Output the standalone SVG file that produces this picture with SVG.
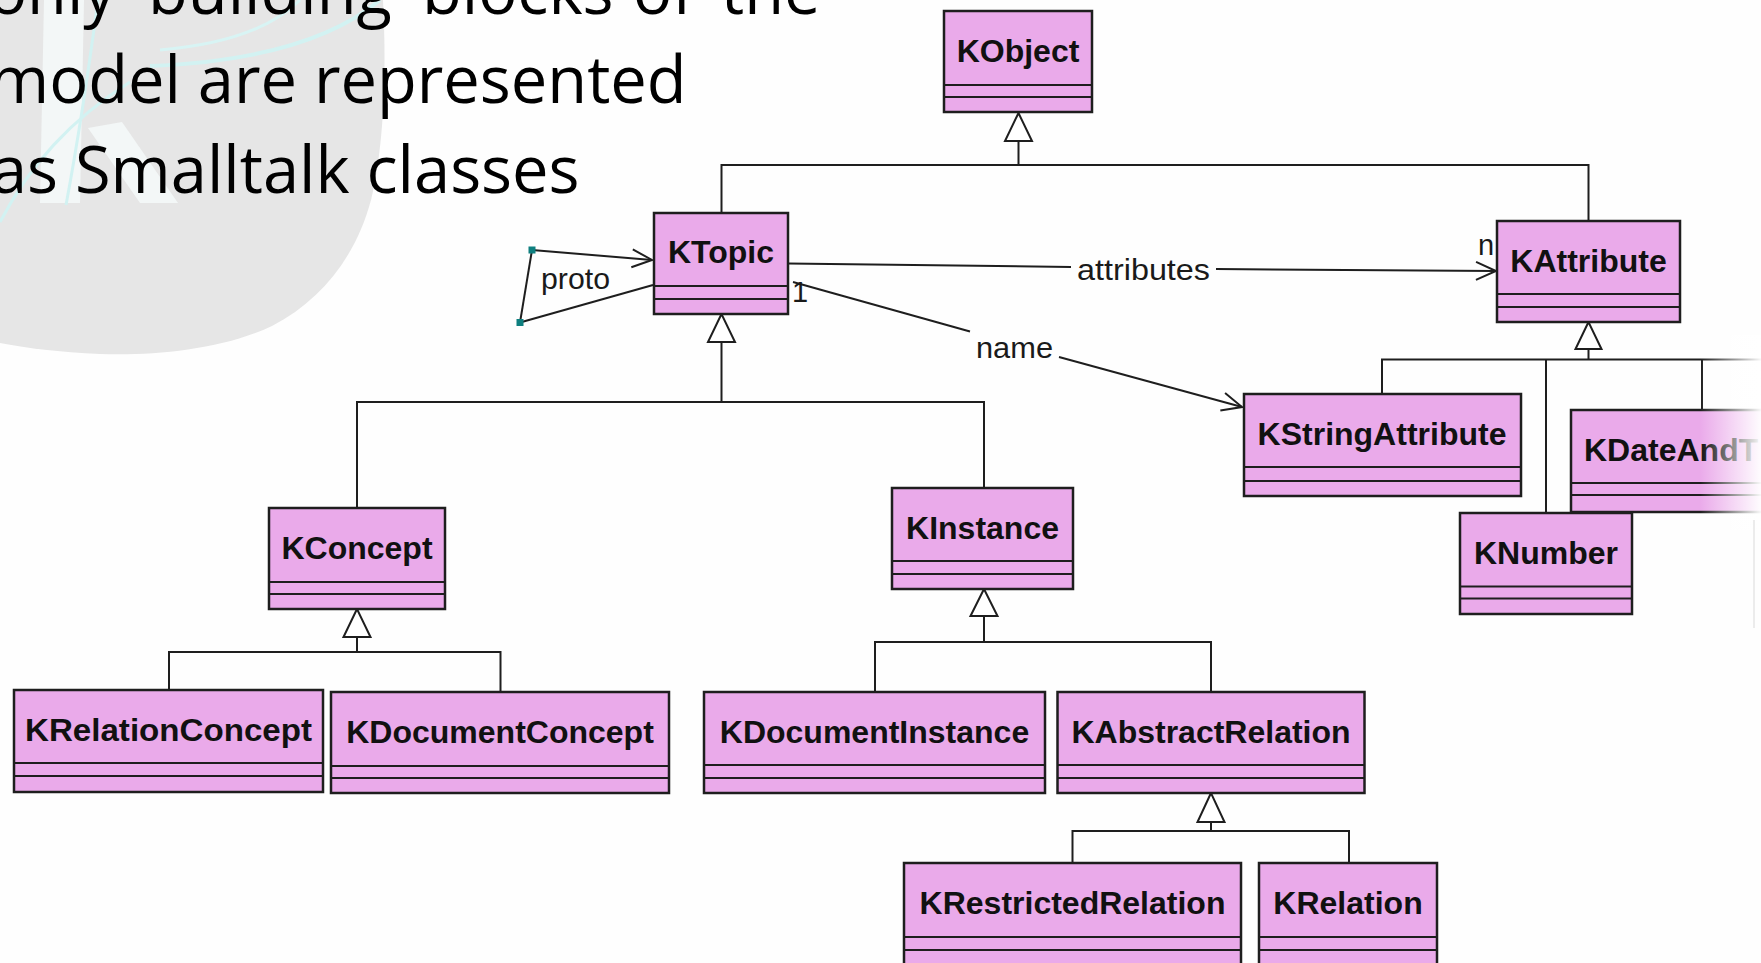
<svg xmlns="http://www.w3.org/2000/svg" width="1761" height="963" viewBox="0 0 1761 963">
  <defs>
    <style>
      .cls rect { fill: #EAAAEA; stroke: #1E1E1E; stroke-width: 2.5; }
      .cls line { stroke: #1E1E1E; stroke-width: 2.2; }
      .cls text { font-family: "Liberation Sans", Arial, sans-serif; font-weight: bold; font-size: 32px; fill: #111; text-anchor: middle; }
      .conn line, .conn polyline, .conn path { fill: none; stroke: #1E1E1E; stroke-width: 2; }
      .conn .gen { fill: #FFFFFF; stroke: #1E1E1E; stroke-width: 2; }
      .lbl { font-family: "Liberation Sans", Arial, sans-serif; font-size: 29px; fill: #1A1A1A; }
      .title { font-family: "Open Sans", "Noto Sans", sans-serif; font-size: 65px; fill: #000; }
      .handle { fill: #0E7F7F; }
    </style>
    <marker id="open" markerUnits="userSpaceOnUse" markerWidth="26" markerHeight="22" refX="22" refY="11" orient="auto">
      <path d="M2,2 L22,11 L2,20" fill="none" stroke="#1E1E1E" stroke-width="2"/>
    </marker>
    <linearGradient id="fade" x1="0" y1="0" x2="1" y2="0">
      <stop offset="0" stop-color="#FFFFFF" stop-opacity="0"/>
      <stop offset="1" stop-color="#FFFFFF" stop-opacity="0.97"/>
    </linearGradient>
  </defs>

  <rect x="0" y="0" width="1761" height="963" fill="#FEFEFE"/>

  <!-- background emblem: grey disc with a pale K -->
  <g id="emblem">
    <path d="M0,0 L383,0 C387,80 383,150 371,200 C356,256 322,300 272,326 C222,350 152,356 100,354 C60,352 25,348 0,343 Z" fill="#E6E6E6"/>
    <path d="M44,0 L84,0 L80,203 L40,203 Z" fill="#F3F7F7"/>
    <path d="M88,128 L122,122 L178,203 L140,203 Z" fill="#F3F7F7"/>
    <path d="M380,0 C330,42 250,62 150,66" fill="none" stroke="#D2F2F2" stroke-width="4"/>
    <path d="M300,0 C270,30 220,45 160,50" fill="none" stroke="#D8F4F4" stroke-width="3"/>
    <path d="M98,0 C90,60 80,130 66,205" fill="none" stroke="#D2F2F2" stroke-width="3"/>
    <path d="M0,222 C30,165 70,120 130,82" fill="none" stroke="#D2F2F2" stroke-width="3"/>
  </g>

  <!-- slide text -->
  <g id="title" class="title">
    <text y="14"><tspan x="-12">only</tspan><tspan x="148">building</tspan><tspan x="422">blocks</tspan><tspan x="633">of</tspan><tspan x="721">the</tspan></text>
    <text x="-11" y="103">model are represented</text>
    <text x="-9" y="193">as Smalltalk classes</text>
  </g>

  <!-- connectors -->
  <g id="connectors" class="conn">
    <!-- KObject generalization -->
    <polygon class="gen" points="1018.5,113 1005,141 1032,141"/>
    <polyline points="1018.5,141 1018.5,165"/>
    <polyline points="721.5,213 721.5,165 1588.5,165 1588.5,221"/>
    <!-- KTopic generalization -->
    <polygon class="gen" points="721.5,314 708,342 735,342"/>
    <polyline points="721.5,342 721.5,402"/>
    <polyline points="357,508 357,402 984,402 984,488"/>
    <!-- KConcept generalization -->
    <polygon class="gen" points="357,609 343.5,637 370.5,637"/>
    <polyline points="357,637 357,652"/>
    <polyline points="169,690 169,652 500.5,652 500.5,692"/>
    <!-- KInstance generalization -->
    <polygon class="gen" points="984,589 970.5,616 997.5,616"/>
    <polyline points="984,616 984,642"/>
    <polyline points="875,692 875,642 1211,642 1211,692"/>
    <!-- KAbstractRelation generalization -->
    <polygon class="gen" points="1211,793 1197.5,822 1224.5,822"/>
    <polyline points="1211,822 1211,831"/>
    <polyline points="1072.5,863 1072.5,831 1349,831 1349,863"/>
    <!-- KAttribute generalization -->
    <polygon class="gen" points="1588.5,322 1575.5,349 1601.5,349"/>
    <polyline points="1588.5,349 1588.5,359.5"/>
    <polyline points="1382,394 1382,359.5 1761,359.5"/>
    <line x1="1546" y1="359.5" x2="1546" y2="513"/>
    <line x1="1702" y1="359.5" x2="1702" y2="410"/>

    <!-- attributes association -->
    <line x1="788" y1="263.5" x2="1071" y2="267"/>
    <line x1="1216" y1="269" x2="1496" y2="271" marker-end="url(#open)"/>
    <text class="lbl" x="1077" y="280" textLength="133" lengthAdjust="spacingAndGlyphs">attributes</text>
    <text class="lbl" x="1478" y="255" font-size="27">n</text>

    <!-- name association -->
    <line x1="793" y1="282" x2="970" y2="331.5"/>
    <line x1="1059" y1="357" x2="1242" y2="407" marker-end="url(#open)"/>
    <text class="lbl" x="976" y="358" textLength="77" lengthAdjust="spacingAndGlyphs">name</text>
    <text class="lbl" x="792" y="302" font-size="26">1</text>

    <!-- proto self association -->
    <line x1="653" y1="285" x2="520" y2="322.5"/>
    <line x1="520" y1="322.5" x2="532" y2="250"/>
    <line x1="532" y1="250" x2="652" y2="260" marker-end="url(#open)"/>
    <rect class="handle" x="528.5" y="246.5" width="7" height="7"/>
    <rect class="handle" x="516.5" y="319" width="7" height="7"/>
    <text class="lbl" x="541" y="289" textLength="69" lengthAdjust="spacingAndGlyphs">proto</text>
  </g>

  <!-- classes -->
  <g id="KObject" class="cls">
    <rect x="944" y="11" width="148" height="101"/>
    <line x1="944" y1="85" x2="1092" y2="85"/>
    <line x1="944" y1="97" x2="1092" y2="97"/>
    <text x="1018" y="62">KObject</text>
  </g>
  <g id="KTopic" class="cls">
    <rect x="654" y="213" width="134" height="101"/>
    <line x1="654" y1="286" x2="788" y2="286"/>
    <line x1="654" y1="299" x2="788" y2="299"/>
    <text x="721" y="263">KTopic</text>
  </g>
  <g id="KAttribute" class="cls">
    <rect x="1497" y="221" width="183" height="101"/>
    <line x1="1497" y1="294" x2="1680" y2="294"/>
    <line x1="1497" y1="307" x2="1680" y2="307"/>
    <text x="1588.5" y="272">KAttribute</text>
  </g>
  <g id="KStringAttribute" class="cls">
    <rect x="1244" y="394" width="277" height="102"/>
    <line x1="1244" y1="467" x2="1521" y2="467"/>
    <line x1="1244" y1="481" x2="1521" y2="481"/>
    <text x="1382" y="445">KStringAttribute</text>
  </g>
  <g id="KDateAndTime" class="cls">
    <rect x="1571" y="410" width="260" height="102"/>
    <line x1="1571" y1="483" x2="1831" y2="483"/>
    <line x1="1571" y1="495" x2="1831" y2="495"/>
    <text x="1584" y="461" style="text-anchor:start">KDateAndT</text>
  </g>
  <g id="KNumber" class="cls">
    <rect x="1460" y="513" width="172" height="101"/>
    <line x1="1460" y1="586.5" x2="1632" y2="586.5"/>
    <line x1="1460" y1="598.5" x2="1632" y2="598.5"/>
    <text x="1546" y="564">KNumber</text>
  </g>
  <g id="KConcept" class="cls">
    <rect x="269" y="508" width="176" height="101"/>
    <line x1="269" y1="582" x2="445" y2="582"/>
    <line x1="269" y1="594" x2="445" y2="594"/>
    <text x="357" y="559">KConcept</text>
  </g>
  <g id="KInstance" class="cls">
    <rect x="892" y="488" width="181" height="101"/>
    <line x1="892" y1="561" x2="1073" y2="561"/>
    <line x1="892" y1="574" x2="1073" y2="574"/>
    <text x="982.5" y="539">KInstance</text>
  </g>
  <g id="KRelationConcept" class="cls">
    <rect x="14" y="690" width="309" height="102"/>
    <line x1="14" y1="763" x2="323" y2="763"/>
    <line x1="14" y1="776" x2="323" y2="776"/>
    <text x="168.5" y="741" textLength="287" lengthAdjust="spacingAndGlyphs">KRelationConcept</text>
  </g>
  <g id="KDocumentConcept" class="cls">
    <rect x="331" y="692" width="338" height="101"/>
    <line x1="331" y1="766" x2="669" y2="766"/>
    <line x1="331" y1="778" x2="669" y2="778"/>
    <text x="500" y="743">KDocumentConcept</text>
  </g>
  <g id="KDocumentInstance" class="cls">
    <rect x="704" y="692" width="341" height="101"/>
    <line x1="704" y1="765" x2="1045" y2="765"/>
    <line x1="704" y1="778" x2="1045" y2="778"/>
    <text x="874.5" y="743">KDocumentInstance</text>
  </g>
  <g id="KAbstractRelation" class="cls">
    <rect x="1057.5" y="692" width="307" height="101"/>
    <line x1="1057.5" y1="765" x2="1364.5" y2="765"/>
    <line x1="1057.5" y1="778" x2="1364.5" y2="778"/>
    <text x="1211" y="743">KAbstractRelation</text>
  </g>
  <g id="KRestrictedRelation" class="cls">
    <rect x="904" y="863" width="337" height="112"/>
    <line x1="904" y1="937" x2="1241" y2="937"/>
    <line x1="904" y1="950" x2="1241" y2="950"/>
    <text x="1072.5" y="914">KRestrictedRelation</text>
  </g>
  <g id="KRelation" class="cls">
    <rect x="1259" y="863" width="178" height="112"/>
    <line x1="1259" y1="937" x2="1437" y2="937"/>
    <line x1="1259" y1="950" x2="1437" y2="950"/>
    <text x="1348" y="914">KRelation</text>
  </g>

  <!-- soft right edge -->
  <rect x="1700" y="335" width="61" height="195" fill="url(#fade)"/>
  <line x1="1754" y1="520" x2="1754" y2="628" stroke="#E6E6E6" stroke-width="1.5"/>
</svg>
